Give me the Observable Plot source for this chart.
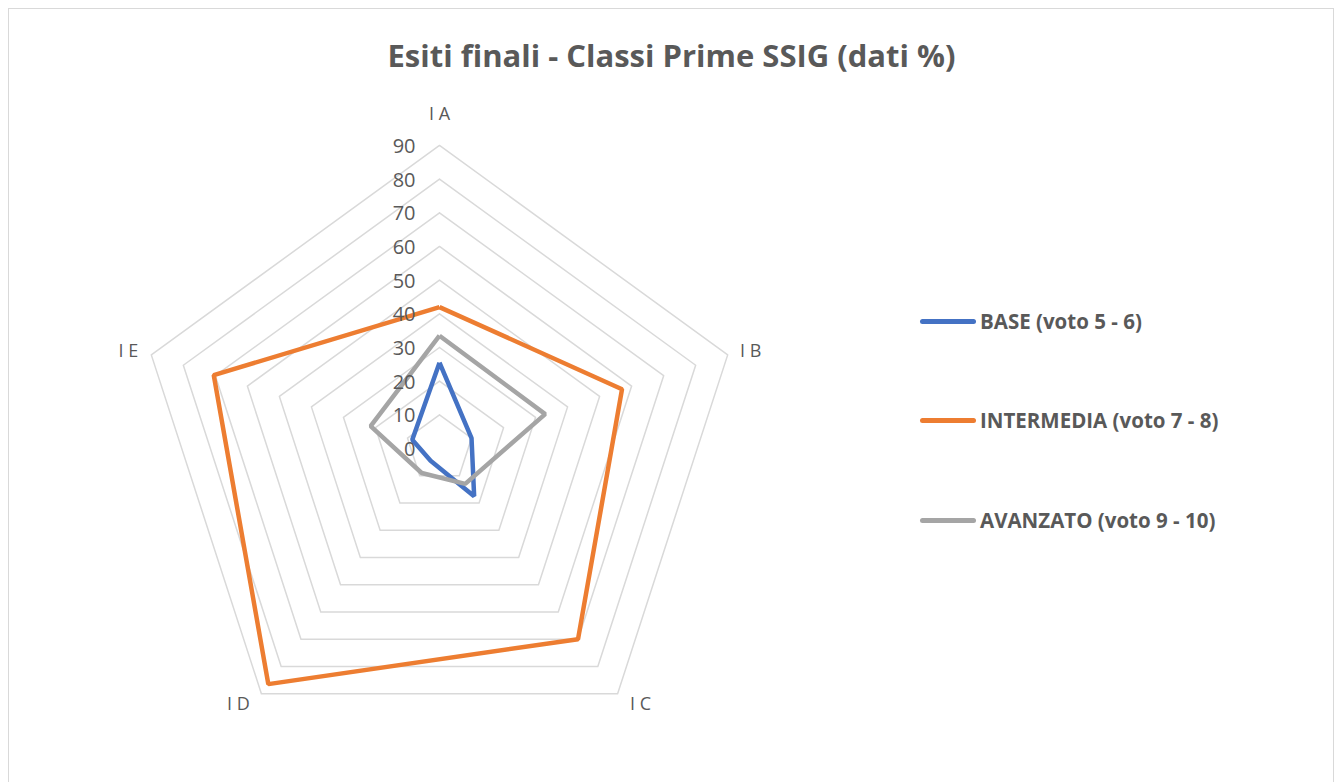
<!DOCTYPE html>
<html>
<head>
<meta charset="utf-8">
<script src="https://cdn.jsdelivr.net/npm/d3@7"></script>
<script src="https://cdn.jsdelivr.net/npm/@observablehq/plot@0.6"></script>
<style>
  html, body { margin: 0; padding: 0; background: #fff; }
  #wrap { position: relative; width: 1343px; height: 782px; overflow: hidden; font-family: "Open Sans", sans-serif; }
  #frame { position: absolute; left: 8px; top: 8px; width: 1326px; height: 800px; border: 1px solid #d9d9d9; box-sizing: border-box; }
  #title { position: absolute; left: 0; width: 1343px; top: 34px; text-align: center; font-size: 31px; font-weight: bold; color: #595959; line-height: 42px; }
  .leg { position: absolute; left: 920px; height: 28px; display: flex; align-items: center; font-size: 20.5px; font-weight: bold; color: #595959; }
  .leg .sw { width: 56px; height: 5px; border-radius: 3px; margin-right: 4px; }
  #chart { position: absolute; left: 0; top: 0; }
</style>
</head>
<body>
<div id="wrap">
  <div id="frame"></div>
  <div id="chart"></div>
  <div id="title"></div>
  <div id="legend"></div>
</div>
<script>
const titleText = "Esiti finali - Classi Prime SSIG (dati %)";
const categories = ["I A", "I B", "I C", "I D", "I E"];
const seriesNames = ["BASE (voto 5 - 6)", "INTERMEDIA (voto 7 - 8)", "AVANZATO (voto 9 - 10)"];
const seriesColors = ["#4472C4", "#ED7D31", "#A5A5A5"];
const baseValues = [25.5, 10, 17.5, 4.5, 8.5];
const intermediaValues = [42, 57, 70, 86.5, 70.5];
const avanzatoValues = [33.5, 33, 13, 9, 21.5];
const gridLevels = [10, 20, 30, 40, 50, 60, 70, 80, 90];
const tickLabels = [0, 10, 20, 30, 40, 50, 60, 70, 80, 90];

const allSeries = [baseValues, intermediaValues, avanzatoValues];
const angle = i => (i * 2 * Math.PI) / categories.length;
const px = (r, i) => r * Math.sin(angle(i));
const py = (r, i) => r * Math.cos(angle(i));

const W = 1343, H = 782, cx = 439, cy = 448, k = 3.367;
const maxLevel = gridLevels[gridLevels.length - 1];

// grid pentagons
const gridData = [];
gridLevels.forEach(level => {
  for (let i = 0; i <= categories.length; i++) {
    const j = i % categories.length;
    gridData.push({level, x: px(level, j), y: py(level, j)});
  }
});

// series polygons
const seriesData = [];
allSeries.forEach((vals, s) => {
  for (let i = 0; i <= vals.length; i++) {
    const j = i % vals.length;
    seriesData.push({series: seriesNames[s], x: px(vals[j], j), y: py(vals[j], j)});
  }
});

// category labels placed just outside the outer vertex
const catData = categories.map((c, i) => {
  const sx = Math.sin(angle(i)), sy = Math.cos(angle(i));
  const hx = Math.abs(sx) < 0.01 ? 0 : Math.sign(sx) * 23;   // horizontal offset in px
  const vy = sy > 0.5 ? 31 : (sy > 0 ? 4 : -11);              // vertical offset in px
  return {label: c, x: px(maxLevel, i) + hx / k, y: py(maxLevel, i) + vy / k};
});
const tickData = tickLabels.map(t => ({label: String(t), x: 0, y: t}));

const chart = Plot.plot({
  width: W,
  height: H,
  margin: 0,
  x: {domain: [-cx / k, (W - cx) / k], axis: null},
  y: {domain: [-(H - cy) / k, cy / k], axis: null},
  color: {domain: seriesNames, range: seriesColors},
  style: {background: "transparent", fontFamily: "'Open Sans', sans-serif"},
  marks: [
    Plot.line(gridData, {x: "x", y: "y", z: "level", stroke: "#d9d9d9", strokeWidth: 1.5, curve: "linear"}),
    Plot.line(seriesData, {x: "x", y: "y", z: "series", stroke: "series", strokeWidth: 4.5, strokeLinejoin: "miter", strokeLinecap: "butt"}),
    Plot.text(tickData, {x: "x", y: "y", text: "label", textAnchor: "end", dx: -24, dy: 1, fontSize: 20, fill: "#595959"}),
    Plot.text(catData, {x: "x", y: "y", text: "label", textAnchor: "middle", fontSize: 18, fill: "#595959", style: "letter-spacing:1.5px"})
  ]
});
document.getElementById("chart").appendChild(chart);

document.getElementById("title").textContent = titleText;
const legendTops = [321, 420, 520];
const legend = document.getElementById("legend");
seriesNames.forEach((name, i) => {
  const d = document.createElement("div");
  d.className = "leg";
  d.style.top = (legendTops[i] - 14) + "px";
  const sw = document.createElement("div");
  sw.className = "sw";
  sw.style.background = seriesColors[i];
  const t = document.createElement("span");
  t.textContent = name;
  d.appendChild(sw);
  d.appendChild(t);
  legend.appendChild(d);
});
</script>
</body>
</html>
